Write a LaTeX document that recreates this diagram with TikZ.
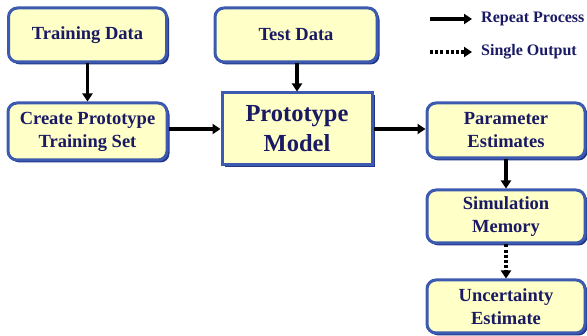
\documentclass[tikz,border=0pt]{standalone}
\usepackage{fontspec}
\setmainfont{Liberation Serif}
\usetikzlibrary{arrows.meta,shadows}
\definecolor{boxfill}{RGB}{255,255,200}
\definecolor{boxedge}{RGB}{60,90,175}
\definecolor{boxshadow}{RGB}{35,55,140}
\definecolor{txt}{RGB}{25,25,100}
\tikzset{
  blk/.style={draw=boxedge, fill=boxfill, line width=3pt, rounded corners=9pt,
    align=center, text=txt, font=\bfseries\fontsize{18.5}{23}\selectfont,
    drop shadow={shadow xshift=2.5pt, shadow yshift=-2.5pt, fill=boxshadow, opacity=1},
    inner sep=0pt},
  bigblk/.style={blk, rounded corners=0pt, font=\bfseries\fontsize{24.5}{30}\selectfont},
  arr/.style={line width=3.2pt, -{Triangle[length=8pt,width=10pt]}},
  dotarr/.style={arr, dash pattern=on 3pt off 2.2pt},
  legtxt/.style={text=txt, font=\bfseries\fontsize{16}{18}\selectfont, anchor=west, inner sep=0pt}
}
\begin{document}
\begin{tikzpicture}[x=1pt,y=-1pt]
\useasboundingbox (0,0) rectangle (587,336);
\node[blk, minimum width=158pt, minimum height=54pt] (td) at (87.5,35) {Training Data};
\node[blk, minimum width=159pt, minimum height=57pt] (cp) at (87.5,131.5) {Create Prototype\\Training Set};
\node[blk, minimum width=162pt, minimum height=54pt] (tsd) at (296,35) {Test Data};
\node[bigblk, minimum width=150pt, minimum height=72pt] (pm) at (297,129) {Prototype\\Model};
\node[blk, minimum width=158pt, minimum height=55pt] (pe) at (506,130.5) {Parameter\\Estimates};
\node[blk, minimum width=158pt, minimum height=53pt] (sm) at (506,216.5) {Simulation\\Memory};
\node[blk, minimum width=158pt, minimum height=53pt] (ue) at (506,306.5) {Uncertainty\\Estimate};

\draw[arr] (td) -- (cp);
\draw[arr] (tsd.south -| pm) -- (pm);
\draw[arr] (cp.east |- pm) -- (pm.west);
\draw[arr] (pm.east) -- (pe.west |- pm);
\draw[arr] (pe) -- (sm);
\draw[dotarr] (sm) -- (ue);

\coordinate (l1a) at (430,19);
\coordinate (l1b) at (472,19);
\coordinate (l2a) at (430,52);
\coordinate (l2b) at (472,52);
\draw[arr] (l1a) -- (l1b);
\draw[dotarr] (l2a) -- (l2b);
\node[legtxt] (lt1) at (481,19) {Repeat Process};
\node[legtxt] (lt2) at (481,52) {Single Output};
\end{tikzpicture}
\end{document}
